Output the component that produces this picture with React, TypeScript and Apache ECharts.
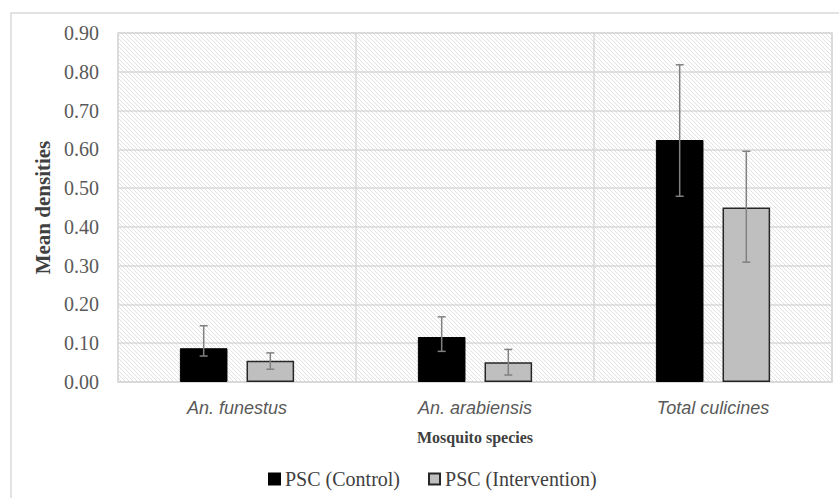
import React, { useEffect, useRef } from "react";
import * as echarts from "echarts";

const categories = ["An. funestus", "An. arabiensis", "Total culicines"];
const controlValues = [0.087, 0.116, 0.624];
const controlLow = [0.067, 0.079, 0.479];
const controlHigh = [0.145, 0.168, 0.818];
const interventionValues = [0.055, 0.051, 0.45];
const interventionLow = [0.033, 0.018, 0.309];
const interventionHigh = [0.075, 0.084, 0.595];
const seriesNames = ["PSC (Control)", "PSC (Intervention)"];

const BAR_FRAC = 0.2;
const GAP_FRAC = 0.08;

function makeHatch() {
  const c = document.createElement("canvas");
  c.width = 4;
  c.height = 4;
  const ctx = c.getContext("2d")!;
  ctx.fillStyle = "#ffffff";
  ctx.fillRect(0, 0, 4, 4);
  ctx.fillStyle = "#e2e2e2";
  for (let i = 0; i < 4; i++) ctx.fillRect(i, i, 1, 1);
  return c;
}

export default function App() {
  const ref = useRef<HTMLDivElement>(null);
  useEffect(() => {
    const chart = echarts.init(ref.current!, null, { renderer: "svg" });
    const serif = "'Liberation Serif', 'Times New Roman', serif";
    const errData = (low: number[], high: number[]) =>
      categories.map((_, i) => [i, low[i], high[i]]);
    const makeErr = (name: string, low: number[], high: number[], sign: number) => ({
      type: "custom",
      name: name + " err",
      z: 5,
      silent: true,
      data: errData(low, high),
      renderItem: (params: any, api: any) => {
        const cw = api.size([1, 0])[0];
        const off = sign * (BAR_FRAC / 2 + GAP_FRAC / 2) * cw;
        const x = api.coord([api.value(0), 0])[0] + off;
        const yl = api.coord([api.value(0), api.value(1)])[1];
        const yh = api.coord([api.value(0), api.value(2)])[1];
        const style = { stroke: "#808080", lineWidth: 1.5 };
        return {
          type: "group",
          children: [
            { type: "line", shape: { x1: x, y1: yl, x2: x, y2: yh }, style },
            { type: "line", shape: { x1: x - 4, y1: yl, x2: x + 4, y2: yl }, style },
            { type: "line", shape: { x1: x - 4, y1: yh, x2: x + 4, y2: yh }, style },
          ],
        };
      },
    });
    chart.setOption({
      animation: false,
      backgroundColor: "#ffffff",
      graphic: [
        {
          type: "rect",
          shape: { x: 11, y: 13, width: 1000, height: 1000 },
          style: { fill: "none", stroke: "#d9d9d9", lineWidth: 1.5 },
          silent: true,
          z: -10,
        },
      ],
      grid: {
        left: 118,
        top: 33,
        right: 7,
        bottom: 116,
        show: true,
        backgroundColor: { image: makeHatch(), repeat: "repeat" },
        borderColor: "#d9d9d9",
        borderWidth: 1.5,
      },
      legend: {
        left: 263,
        top: 464,
        itemWidth: 11,
        itemHeight: 11,
        itemGap: 28,
        icon: "rect",
        textStyle: { fontFamily: serif, fontSize: 20, color: "#404040", padding: [0, 0, 0, 0] },
        data: seriesNames,
      },
      xAxis: {
        type: "category",
        data: categories,
        axisLine: { show: true, lineStyle: { color: "#d9d9d9", width: 1.5 } },
        axisTick: { show: false },
        splitLine: { show: true, lineStyle: { color: "#d9d9d9", width: 1.5 } },
        axisLabel: {
          fontFamily: "'Liberation Sans', Arial, sans-serif",
          fontStyle: "italic",
          fontSize: 18,
          color: "#595959",
          margin: 17,
        },
        name: "Mosquito species",
        nameLocation: "middle",
        nameGap: 47,
        nameTextStyle: { fontFamily: serif, fontWeight: "bold", fontSize: 16, color: "#404040" },
      },
      yAxis: {
        type: "value",
        min: 0,
        max: 0.9,
        interval: 0.1,
        axisLine: { show: false },
        axisTick: { show: false },
        splitLine: { show: true, lineStyle: { color: "#d9d9d9", width: 1.5 } },
        axisLabel: {
          fontFamily: serif,
          fontSize: 20,
          color: "#595959",
          margin: 19,
          formatter: (v: number) => v.toFixed(2),
        },
        name: "Mean densities",
        nameLocation: "middle",
        nameGap: 64,
        nameTextStyle: { fontFamily: serif, fontWeight: "bold", fontSize: 21, color: "#404040" },
      },
      series: [
        {
          name: seriesNames[0],
          type: "bar",
          data: controlValues,
          barWidth: "20%",
          barGap: "40%",
          itemStyle: { color: "#000000", borderColor: "#000000", borderWidth: 1 },
        },
        {
          name: seriesNames[1],
          type: "bar",
          data: interventionValues,
          barWidth: "20%",
          itemStyle: { color: "#bfbfbf", borderColor: "#262626", borderWidth: 1.5 },
        },
        makeErr(seriesNames[0], controlLow, controlHigh, -1),
        makeErr(seriesNames[1], interventionLow, interventionHigh, 1),
      ],
    });
    return () => chart.dispose();
  }, []);
  return (
    <div
      ref={ref}
      style={{ position: "fixed", left: 0, top: 0, width: 839, height: 498 }}
    />
  );
}
